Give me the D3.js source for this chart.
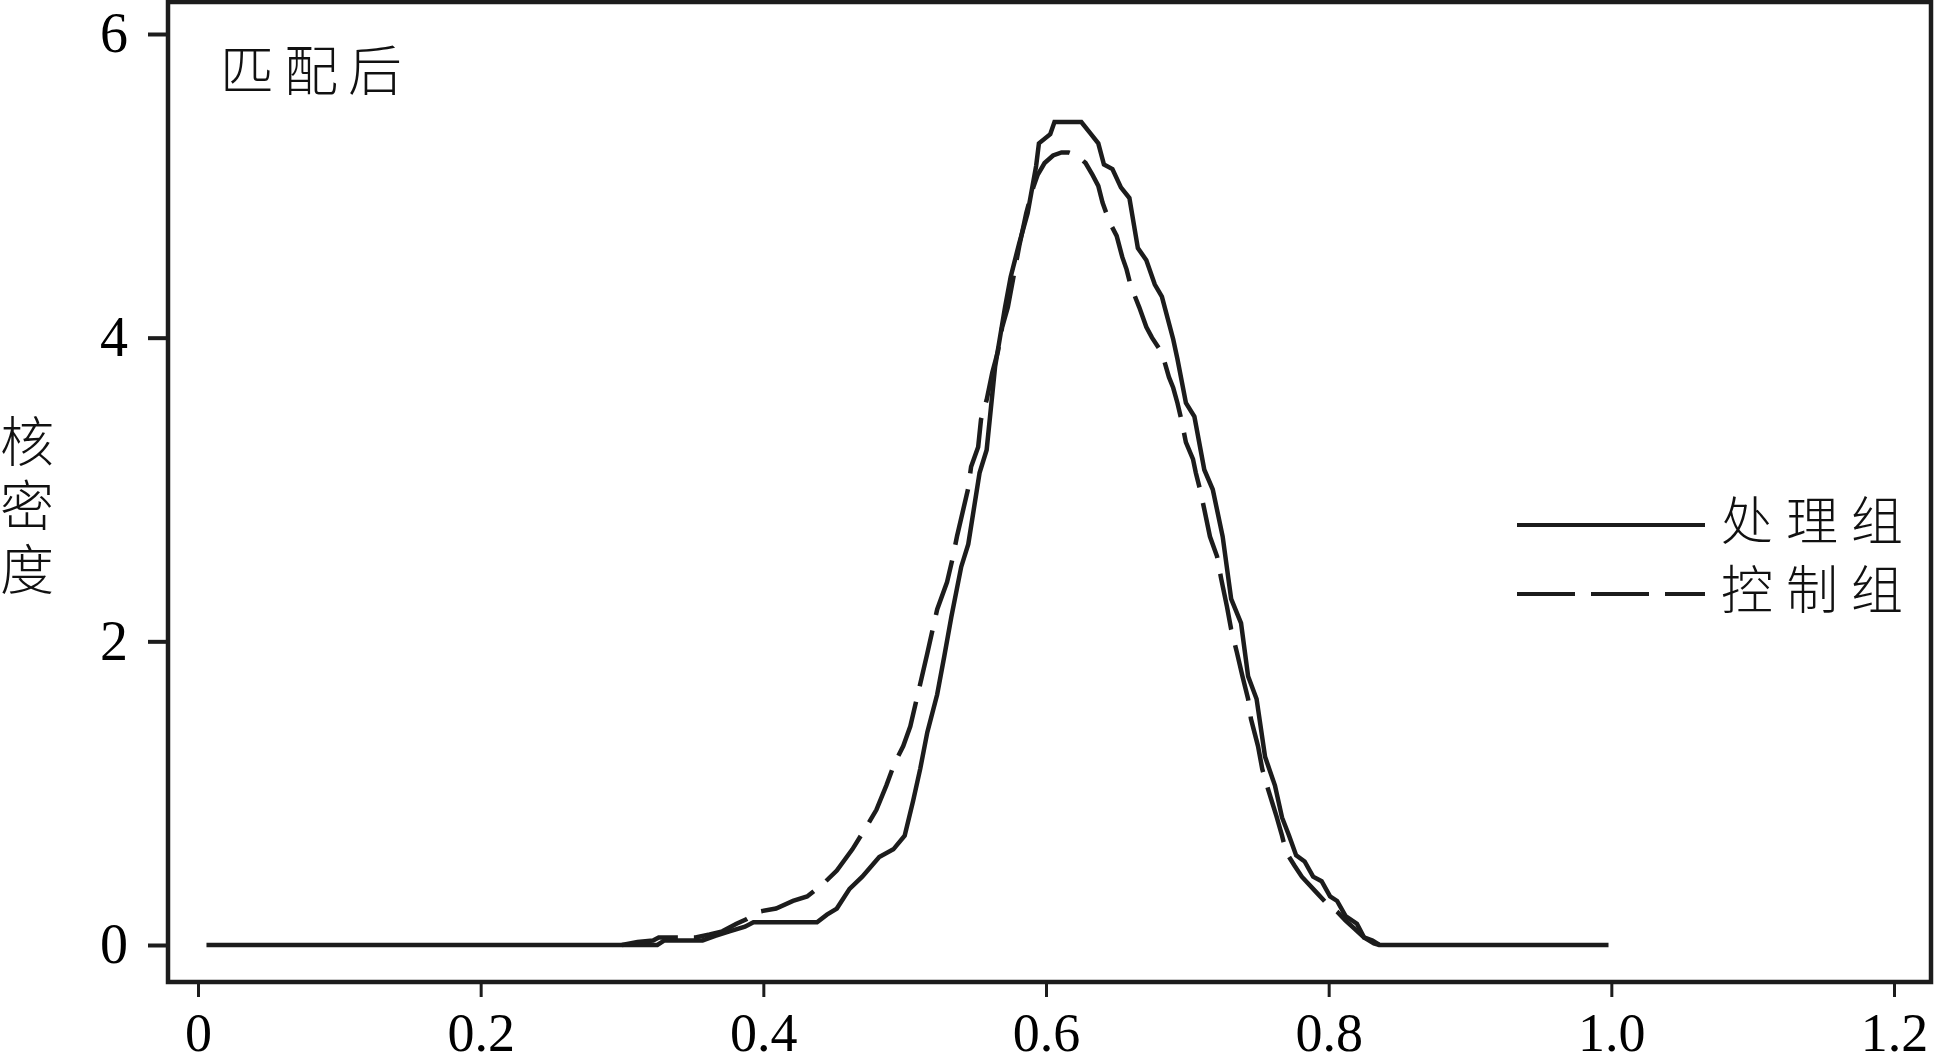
<!DOCTYPE html>
<html>
<head>
<meta charset="utf-8">
<script src="https://cdn.jsdelivr.net/npm/d3@7"></script>
<style>
  html, body { margin: 0; padding: 0; background: #fff; }
  svg { display: block; }
</style>
</head>
<body>
<svg id="chart" width="1938" height="1056"></svg>
<script>
// ---- data ----
const xTicks = [0, 0.2, 0.4, 0.6, 0.8, 1.0, 1.2];
const xTickLabels = ["0", "0.2", "0.4", "0.6", "0.8", "1.0", "1.2"];
const yTicks = [0, 2, 4, 6];
const yTickLabels = ["0", "2", "4", "6"];
const panelTitle = "匹配后";
const yLabel = "核密度";
const seriesNames = ["处理组", "控制组"];

const treatedX = [0.006, 0.325, 0.330, 0.357, 0.366, 0.376, 0.387, 0.393, 0.438, 0.445, 0.452, 0.461, 0.470, 0.482, 0.492, 0.500, 0.506, 0.511, 0.516, 0.523, 0.528, 0.533, 0.540, 0.545, 0.553, 0.558, 0.564, 0.571, 0.575, 0.581, 0.587, 0.593, 0.595, 0.603, 0.606, 0.625, 0.631, 0.637, 0.641, 0.647, 0.653, 0.659, 0.665, 0.671, 0.677, 0.682, 0.690, 0.693, 0.699, 0.705, 0.712, 0.718, 0.725, 0.731, 0.738, 0.743, 0.749, 0.755, 0.762, 0.767, 0.772, 0.777, 0.783, 0.789, 0.795, 0.801, 0.806, 0.812, 0.820, 0.825, 0.831, 0.836, 0.998];
const treatedY = [0, 0, 0.03, 0.03, 0.06, 0.09, 0.12, 0.15, 0.15, 0.20, 0.24, 0.37, 0.45, 0.58, 0.63, 0.72, 0.95, 1.16, 1.40, 1.65, 1.90, 2.16, 2.49, 2.64, 3.11, 3.26, 3.81, 4.20, 4.40, 4.62, 4.82, 5.13, 5.28, 5.34, 5.42, 5.42, 5.35, 5.28, 5.14, 5.11, 4.99, 4.92, 4.59, 4.51, 4.35, 4.27, 3.99, 3.86, 3.57, 3.48, 3.13, 3.00, 2.69, 2.28, 2.12, 1.77, 1.62, 1.24, 1.05, 0.84, 0.72, 0.59, 0.55, 0.45, 0.42, 0.32, 0.29, 0.19, 0.14, 0.05, 0.03, 0, 0];

const controlX = [0.300, 0.311, 0.322, 0.326, 0.352, 0.362, 0.371, 0.381, 0.388, 0.397, 0.409, 0.421, 0.431, 0.442, 0.452, 0.463, 0.473, 0.480, 0.487, 0.493, 0.499, 0.504, 0.509, 0.516, 0.523, 0.530, 0.534, 0.537, 0.541, 0.545, 0.547, 0.552, 0.554, 0.558, 0.562, 0.566, 0.569, 0.573, 0.577, 0.581, 0.586, 0.591, 0.594, 0.599, 0.605, 0.611, 0.616, 0.622, 0.628, 0.633, 0.637, 0.640, 0.645, 0.650, 0.654, 0.657, 0.660, 0.666, 0.671, 0.675, 0.682, 0.687, 0.690, 0.693, 0.696, 0.699, 0.704, 0.706, 0.709, 0.712, 0.716, 0.721, 0.724, 0.728, 0.731, 0.735, 0.739, 0.743, 0.745, 0.750, 0.753, 0.757, 0.763, 0.767, 0.770, 0.776, 0.781, 0.791, 0.798, 0.806, 0.812, 0.818, 0.825, 0.832, 0.836];
const controlY = [0, 0.02, 0.03, 0.05, 0.05, 0.07, 0.09, 0.14, 0.17, 0.22, 0.24, 0.29, 0.32, 0.40, 0.49, 0.63, 0.78, 0.89, 1.05, 1.20, 1.31, 1.44, 1.64, 1.92, 2.21, 2.39, 2.55, 2.69, 2.85, 3.01, 3.15, 3.28, 3.46, 3.59, 3.77, 3.91, 4.07, 4.20, 4.40, 4.60, 4.82, 4.99, 5.07, 5.15, 5.20, 5.22, 5.22, 5.20, 5.15, 5.07, 5.00, 4.89, 4.76, 4.67, 4.53, 4.45, 4.34, 4.20, 4.07, 4.00, 3.90, 3.74, 3.67, 3.57, 3.45, 3.31, 3.20, 3.11, 3.00, 2.87, 2.69, 2.56, 2.41, 2.23, 2.08, 1.93, 1.77, 1.62, 1.49, 1.31, 1.16, 1.03, 0.85, 0.72, 0.61, 0.52, 0.45, 0.35, 0.28, 0.22, 0.16, 0.11, 0.05, 0.01, 0];

// ---- layout ----
const ink = "#1c1c1c";
const frame = { left: 168, right: 1931, top: 2, bottom: 982 };
const x = d3.scaleLinear().domain([0, 1.2]).range([198, 1894]);
const y = d3.scaleLinear().domain([0, 6]).range([945, 34]);

const svg = d3.select("#chart");

// curves
const line = d3.line().x(d => x(d[0])).y(d => y(d[1])).curve(d3.curveLinear);
const treated = treatedX.map((v, i) => [v, treatedY[i]]);
const control = controlX.map((v, i) => [v, controlY[i]]);

svg.append("path").datum(treated)
  .attr("d", line).attr("fill", "none")
  .attr("stroke", ink).attr("stroke-width", 4.5);

svg.append("path").datum(control)
  .attr("d", line).attr("fill", "none")
  .attr("stroke", ink).attr("stroke-width", 4.5)
  .attr("stroke-dasharray", "57,16");

// frame
svg.append("rect")
  .attr("x", frame.left).attr("y", frame.top)
  .attr("width", frame.right - frame.left).attr("height", frame.bottom - frame.top)
  .attr("fill", "none").attr("stroke", ink).attr("stroke-width", 4.5);

// x axis
const xAxis = d3.axisBottom(x).tickValues(xTicks)
  .tickFormat((d, i) => xTickLabels[i]).tickSize(15).tickPadding(16);
const gx = svg.append("g").attr("transform", `translate(0,${frame.bottom})`).call(xAxis);
gx.select(".domain").remove();
gx.selectAll(".tick line").attr("stroke", ink).attr("stroke-width", 3);
gx.selectAll(".tick text").attr("fill", "#000")
  .style("font-family", "'Liberation Serif', 'Times New Roman', serif")
  .style("font-size", "54px");

// y axis
const yAxis = d3.axisLeft(y).tickValues(yTicks)
  .tickFormat((d, i) => yTickLabels[i]).tickSize(20).tickPadding(20);
const gy = svg.append("g").attr("transform", `translate(${frame.left},0)`).call(yAxis);
gy.select(".domain").remove();
gy.selectAll(".tick line").attr("stroke", ink).attr("stroke-width", 4);
gy.selectAll(".tick text").attr("fill", "#000")
  .style("font-family", "'Liberation Serif', 'Times New Roman', serif")
  .style("font-size", "56px");

// panel title
svg.append("text")
  .attr("x", 220).attr("y", 91)
  .style("font-family", "'Noto Sans CJK SC', sans-serif")
  .style("font-size", "54px").style("font-weight", "300")
  .style("letter-spacing", "10px")
  .attr("fill", "#111")
  .text(panelTitle);

// y label (vertical writing)
svg.append("text")
  .attr("x", 27).attr("y", 414)
  .style("font-family", "'Noto Sans CJK SC', sans-serif")
  .style("font-size", "54px").style("font-weight", "300")
  .style("writing-mode", "vertical-rl")
  .style("letter-spacing", "10px")
  .attr("fill", "#111")
  .text(yLabel);

// legend
const legY = [525, 594];
const dashes = [null, "58,16"];
seriesNames.forEach((name, i) => {
  svg.append("line")
    .attr("x1", 1517).attr("x2", 1705).attr("y1", legY[i]).attr("y2", legY[i])
    .attr("stroke", ink).attr("stroke-width", 4)
    .attr("stroke-dasharray", dashes[i]);
  svg.append("text")
    .attr("x", 1721).attr("y", legY[i] + 15)
    .style("font-family", "'Noto Sans CJK SC', sans-serif")
    .style("font-size", "52px").style("font-weight", "300")
    .style("letter-spacing", "13px")
    .attr("fill", "#111")
    .text(name);
});
</script>
</body>
</html>
